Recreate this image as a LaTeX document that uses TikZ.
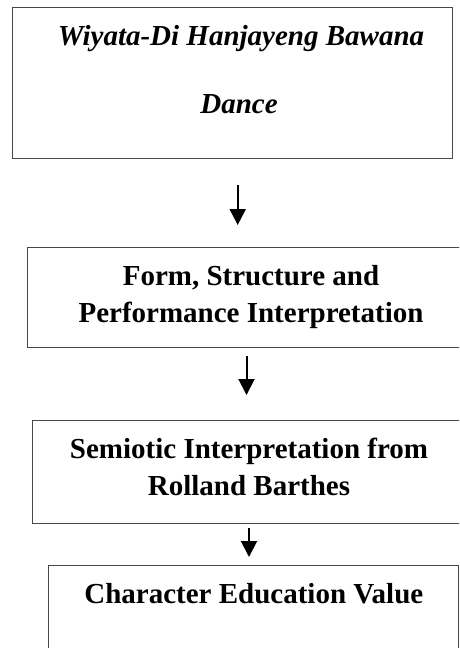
\documentclass[tikz,border=0pt]{standalone}
\usepackage{fontspec}
\setmainfont{Liberation Serif}
\usetikzlibrary{arrows.meta}
\tikzset{
  boxframe/.style={draw=black!72, line width=1.3pt, rectangle, inner sep=0pt, anchor=north west},
  linetext/.style={anchor=base, inner sep=0pt, font=\fontsize{29}{38}\selectfont\bfseries},
  flowarrow/.style={line width=2pt, -{Triangle[width=16pt,length=16pt]}},
}
\begin{document}
\begin{tikzpicture}[x=1pt,y=-1pt]
\clip (0,0) rectangle (459,648);
\fill[white] (0,0) rectangle (459,648);
% boxes
\node[boxframe, minimum width=440pt, minimum height=151pt] (b1) at (12,7) {};
\node[boxframe, minimum width=445pt, minimum height=100pt] (b2) at (27,247) {};
\node[boxframe, minimum width=440pt, minimum height=103pt] (b3) at (32,420) {};
\node[boxframe, minimum width=410pt, minimum height=120pt] (b4) at (47.5,565) {};
% texts
\node[linetext] (t1a) at (241,45.7) {\itshape Wiyata-Di Hanjayeng Bawana};
\node[linetext] (t1b) at (239,113) {\itshape Dance};
\node[linetext] (t2a) at (251,285) {Form, Structure and};
\node[linetext] (t2b) at (251,322.7) {Performance Interpretation};
\node[linetext] (t3a) at (249,458.3) {Semiotic Interpretation from};
\node[linetext] (t3b) at (249,495.5) {Rolland Barthes};
\node[linetext] (t4a) at (253.8,603.3) {Character Education Value};
% arrows
\coordinate (a1s) at (237.7,185);
\coordinate (a1e) at (237.7,225);
\coordinate (a2s) at (246.5,356);
\coordinate (a2e) at (246.5,395);
\coordinate (a3s) at (249,528);
\coordinate (a3e) at (249,557);
\draw[flowarrow] (a1s) -- (a1e);
\draw[flowarrow] (a2s) -- (a2e);
\draw[flowarrow] (a3s) -- (a3e);
\end{tikzpicture}
\end{document}
